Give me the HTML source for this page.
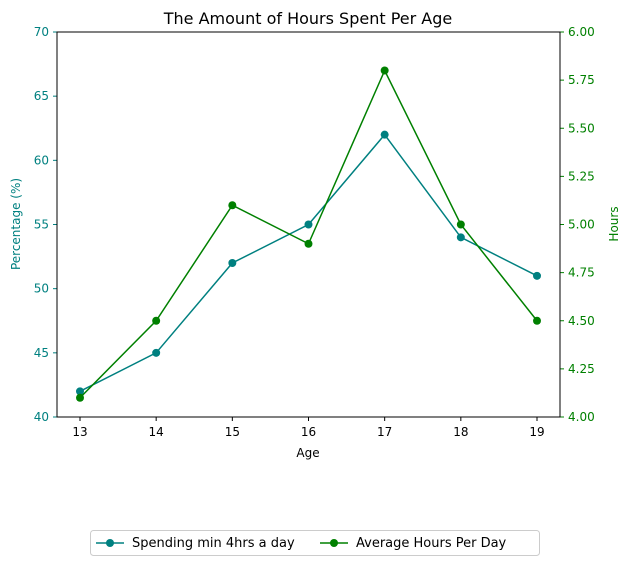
<!DOCTYPE html>
<html><head><meta charset="utf-8"><style>
body{margin:0;background:#fff;font-family:"Liberation Sans","DejaVu Sans",sans-serif;}
svg text{font-family:"DejaVu Sans","Liberation Sans",sans-serif;}
</style></head><body>
<svg id="c" width="630" height="565" viewBox="0 0 630 565"></svg>
<script>
const ages=[13,14,15,16,17,18,19];
const pctValues=[42,45,52,55,62,54,51];
const hourValues=[4.1,4.5,5.1,4.9,5.8,5.0,4.5];
const leftTicks=[40,45,50,55,60,65,70];
const rightTicks=["4.00","4.25","4.50","4.75","5.00","5.25","5.50","5.75","6.00"];
const L=57,R=560,T=32,B=417;
const xs=v=>80+(v-13)*(537-80)/6;
const yl=v=>B-(v-40)*(B-T)/30;
const yr=v=>B-(v-4)*(B-T)/2;
const svg=document.getElementById('c');const NS='http://www.w3.org/2000/svg';
function el(t,a,txt){const e=document.createElementNS(NS,t);for(const k in a)e.setAttribute(k,a[k]);if(txt!==undefined)e.textContent=txt;svg.appendChild(e);return e;}
let e;
e=el('text',{x:308,y:24,'text-anchor':'middle','font-size':16,fill:'#000'},'The Amount of Hours Spent Per Age');

ages.forEach(a=>{const x=xs(a);el('line',{x1:x,x2:x,y1:B,y2:B+4,stroke:'#000'});
e=el('text',{x:x,y:B+19,'text-anchor':'middle','font-size':12},a);
});
leftTicks.forEach(v=>{const y=yl(v);el('line',{x1:L-4,x2:L,y1:y,y2:y,stroke:'teal'});
e=el('text',{x:L-8,y:y+4,'text-anchor':'end','font-size':12,fill:'teal'},v);
});
rightTicks.forEach(v=>{const y=yr(+v);el('line',{x1:R,x2:R+4,y1:y,y2:y,stroke:'green'});
e=el('text',{x:R+8,y:y+4,'font-size':12,fill:'green'},v);
});
e=el('text',{x:308,y:457,'text-anchor':'middle','font-size':12},'Age');

e=el('text',{x:20,y:224,'text-anchor':'middle','font-size':12,fill:'teal',transform:'rotate(-90 20 224)'},'Percentage (%)');

e=el('text',{x:618,y:224,'text-anchor':'middle','font-size':12,fill:'green',transform:'rotate(-90 618 224)'},'Hours');

function series(vals,ys,col,name){
e=el('polyline',{points:vals.map((v,i)=>xs(ages[i])+','+ys(v)).join(' '),fill:'none',stroke:col,'stroke-width':1.5});

vals.forEach((v,i)=>{e=el('circle',{cx:xs(ages[i]),cy:ys(v),r:4,fill:col});
});}
series(pctValues,yl,'teal','pct');
series(hourValues,yr,'green','hours');
e=el('rect',{x:L,y:T,width:R-L,height:B-T,fill:'none',stroke:'#000'});

e=el('rect',{x:90.5,y:530.5,width:449,height:25,rx:3,fill:'#fff',stroke:'#ccc'});

[[96,'teal','Spending min 4hrs a day'],[320,'green','Average Hours Per Day']].forEach(([x,c,t])=>{
el('line',{x1:x,x2:x+28,y1:543,y2:543,stroke:c,'stroke-width':1.5});
el('circle',{cx:x+14,cy:543,r:4,fill:c});
e=el('text',{x:x+36,y:547,'font-size':13},t);
});
</script>
</body></html>
